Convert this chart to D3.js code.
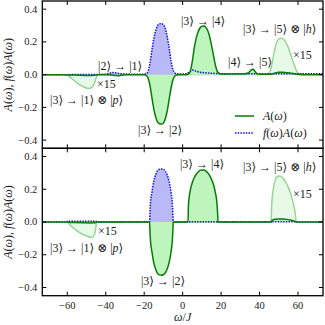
<!DOCTYPE html>
<meta charset="utf-8">
<head>
<script src="https://d3js.org/d3.v7.min.js"></script>
<style>
body { margin: 0; background: #fff; }
text { font-family: "Liberation Serif", "DejaVu Serif", serif; font-size: 12px; fill: #222; }
text.tick { font-size: 10.5px; }
</style>
</head>
<body>
<div id="chart"></div>
<script>

var xTicks = [-60, -40, -20, 0, 20, 40, 60];
var yTicks = [-0.4, -0.2, 0.0, 0.2, 0.4];

// top panel: smooth spectra  [omega, value]
var topA = [[-73,0],[-62,0],[-60,-0.0005],[-57,-0.002],[-54,-0.0035],[-51,-0.005],[-48.5,-0.0056],[-46,-0.004],[-44.5,-0.001],[-43,0],
  [-40,0],[-37,-0.002],[-35,-0.005],[-33.5,-0.007],[-32,-0.004],[-30,-0.001],[-22,0],[-20,-0.001],
  [-19,-0.004],[-18,-0.02],[-17,-0.065],[-16,-0.14],[-15,-0.21],[-14,-0.26],[-13,-0.29],[-12,-0.3],[-11,-0.302],[-10,-0.295],
  [-9,-0.27],[-8,-0.22],[-7,-0.15],[-6,-0.08],[-5,-0.03],[-4,-0.008],[-3,-0.002],[-2,0],[2,0],
  [3,0.003],[4,0.02],[5,0.08],[6,0.16],[7,0.22],[8,0.26],[9,0.285],[10,0.296],[11,0.297],[12,0.29],[13,0.27],[14,0.235],
  [15,0.18],[16,0.12],[17,0.06],[18,0.02],[19,0.007],[20,0.004],[26,0.004],[32,0.005],[34,0.01],[35,0.02],[36,0.032],[36.8,0.033],
  [37.5,0.022],[38.5,0.008],[40,0.002],[44,0.002],[47,0.006],[50,0.014],[52,0.015],[55,0.011],[58,0.005],[61,0.001],[63,0],[73,0]];
var topFA = [[-73,0],[-62,0],[-50,0.001],[-42,0.002],[-40,0.003],[-38,0.009],[-36.5,0.013],[-35,0.011],[-33,0.007],[-30,0.004],
  [-25,0.003],[-21,0.003],
  [-19,0.005],[-18,0.02],[-17,0.07],[-16,0.15],[-15,0.22],[-14,0.27],[-13,0.3],[-12,0.31],[-11,0.312],[-10,0.305],
  [-9,0.28],[-8,0.23],[-7,0.16],[-6,0.08],[-5,0.03],[-4,0.01],[-3,0.005],[0,0.004],
  [2,0.006],[3,0.012],[4,0.022],[5,0.028],[6,0.026],[7,0.021],[9,0.015],[12,0.011],[16,0.008],[20,0.006],[30,0.005],
  [40,0.005],[50,0.006],[60,0.005],[73,0.005]];
var topX15 = [[-61,0],[-59,-0.01],[-57,-0.03],[-55,-0.05],[-53,-0.065],[-51,-0.077],[-49,-0.084],[-47.5,-0.08],[-46,-0.055],[-45,-0.02],[-44,0],
  [44,0],[45,0.01],[46,0.04],[47,0.1],[48,0.16],[49,0.2],[50,0.218],[51,0.222],[52,0.22],[53,0.21],[54,0.19],[55,0.165],
  [56,0.13],[57,0.095],[58,0.06],[59,0.03],[60,0.01],[61,0]];

// bottom panel: sharp-edged spectra
var botA = [[-73,0],[-60,0],[-59.5,-0.001],[-56,-0.003],[-52,-0.005],[-48,-0.0062],[-46,-0.0053],[-45.2,-0.003],[-44.8,0],
  [-17.2,0],[-17,-0.06],[-16.7,-0.12],[-16,-0.18],[-15,-0.25],[-14,-0.29],[-13,-0.315],[-12,-0.323],[-11,-0.325],[-10,-0.322],
  [-9,-0.31],[-8,-0.285],[-7,-0.245],[-6,-0.18],[-5.3,-0.1],[-5.05,-0.04],[-4.9,0],
  [2.8,0],[3,0.1],[3.5,0.16],[4,0.195],[5,0.24],[6,0.27],[7,0.29],[8,0.305],[9,0.315],[10,0.318],[11,0.318],[12,0.312],
  [13,0.3],[14,0.285],[15,0.26],[16,0.23],[17,0.18],[17.8,0.12],[18.2,0.05],[18.4,0],
  [46,0],[46.3,0.007],[47,0.013],[48,0.017],[50,0.019],[52,0.018],[54,0.016],[56,0.012],[58,0.006],[59,0],[73,0]];
var botFA = [[-73,0],[-60.1,0],[-60,0.004],[-52,0.005],[-45,0.005],[-44.9,0],
  [-17.2,0],[-17,0.06],[-16.7,0.12],[-16,0.18],[-15,0.25],[-14,0.29],[-13,0.315],[-12,0.322],[-11,0.324],[-10,0.322],
  [-9,0.31],[-8,0.285],[-7,0.245],[-6,0.18],[-5.3,0.1],[-5.05,0.04],[-4.9,0],
  [2.8,0],[2.9,0.002],[18.3,0.002],[18.4,0],[46,0],[46.1,0.002],[58.9,0.002],[59,0],[73,0]];
var botX15 = [[-60,0],[-59,-0.012],[-58,-0.025],[-56,-0.045],[-54,-0.062],[-52,-0.075],[-50,-0.085],[-48,-0.093],[-47,-0.094],
  [-46,-0.08],[-45.2,-0.04],[-44.8,0],
  [46,0],[46.3,0.1],[47,0.19],[48,0.25],[49,0.275],[50,0.281],[51,0.278],[52,0.27],[53,0.255],[54,0.235],[55,0.21],
  [56,0.18],[57,0.14],[58,0.09],[58.7,0.04],[59,0]];

// annotations [omega, value, label]
var topNotes = [[-44,0.028,"|2⟩ → |1⟩"],[-44.6,-0.082,"×15"],[-69,-0.179,"|3⟩ → |1⟩ ⊗ |p⟩"],[-23.2,-0.363,"|3⟩ → |2⟩"],
  [-0.9,0.303,"|3⟩ → |4⟩"],[23.6,0.053,"|4⟩ → |5⟩"],[31.4,0.255,"|3⟩ → |5⟩ ⊗ |h⟩"],[57.4,0.096,"×15"]];
var botNotes = [[-44,-0.079,"×15"],[-69,-0.183,"|3⟩ → |1⟩ ⊗ |p⟩"],[-21.7,-0.385,"|3⟩ → |2⟩"],
  [-1.4,0.33,"|3⟩ → |4⟩"],[31.4,0.312,"|3⟩ → |5⟩ ⊗ |h⟩"],[57.4,0.147,"×15"]];

var width = 325, height = 325;
var left = 42.3, right = 323;

var svg = d3.select("#chart").append("svg")
  .attr("width", width)
  .attr("height", height);

var x = d3.scaleLinear().domain([-73, 73]).range([left, right]);

function mathText(sel, str) {
  var parts = str.match(/[A-Za-zω]+|[^A-Za-zω]+/g);
  parts.forEach(function(p) {
    sel.append("tspan")
      .style("font-style", /[A-Za-zω]/.test(p) ? "italic" : "normal")
      .text(p);
  });
}

var panels = [
  {top: 1, bottom: 148.3, A: topA, FA: topFA, X15: topX15, notes: topNotes, legend: true},
  {top: 148.3, bottom: 295.7, A: botA, FA: botFA, X15: botX15, notes: botNotes, legend: false}
];

panels.forEach(function(p) {
  var y = d3.scaleLinear().domain([-0.45, 0.45]).range([p.bottom, p.top]);
  var g = svg.append("g");

  var area = d3.area()
    .x(function(d) { return x(d[0]); })
    .y0(y(0))
    .y1(function(d) { return y(d[1]); })
    .curve(d3.curveMonotoneX);
  var line = d3.line()
    .x(function(d) { return x(d[0]); })
    .y(function(d) { return y(d[1]); })
    .curve(d3.curveMonotoneX);

  // x15 magnified features
  g.append("path").datum(p.X15).attr("d", area).attr("fill", "#e7fae7");
  g.append("path").datum(p.X15).attr("d", line).attr("fill", "none")
    .attr("stroke", "#93d393").attr("stroke-width", 1.4);

  g.append("path").datum(p.FA).attr("d", area).attr("fill", "#b9b9f7");
  g.append("path").datum(p.A).attr("d", area).attr("fill", "#bdf5bd");

  g.append("path").datum(p.FA).attr("d", line).attr("fill", "none")
    .attr("stroke", "#1010e0").attr("stroke-width", 1.5).attr("stroke-dasharray", "1.5,1.2");
  g.append("path").datum(p.A).attr("d", line).attr("fill", "none")
    .attr("stroke", "#0a7a0a").attr("stroke-width", 1.5);

  // annotations
  p.notes.forEach(function(n) {
    var t = g.append("text").attr("x", x(n[0])).attr("y", y(n[1]));
    mathText(t, n[2]);
  });

  // ticks inside on all sides
  var tl = 4;
  xTicks.forEach(function(v) {
    g.append("line").attr("x1", x(v)).attr("x2", x(v)).attr("y1", p.bottom).attr("y2", p.bottom - tl).attr("stroke", "#000");
    g.append("line").attr("x1", x(v)).attr("x2", x(v)).attr("y1", p.top).attr("y2", p.top + tl).attr("stroke", "#000");
  });
  yTicks.forEach(function(v) {
    g.append("line").attr("x1", left).attr("x2", left + tl).attr("y1", y(v)).attr("y2", y(v)).attr("stroke", "#000");
    g.append("line").attr("x1", right).attr("x2", right - tl).attr("y1", y(v)).attr("y2", y(v)).attr("stroke", "#000");
    g.append("text").attr("class", "tick").attr("x", left - 5).attr("y", y(v)).attr("dy", "0.33em")
      .attr("text-anchor", "end").text(d3.format(".1f")(v).replace("-", "−"));
  });

  g.append("rect").attr("x", left).attr("y", p.top)
    .attr("width", right - left).attr("height", p.bottom - p.top)
    .attr("fill", "none").attr("stroke", "#000").attr("stroke-width", 1.3);

  var yl = g.append("text")
    .attr("transform", "translate(12," + ((p.top + p.bottom) / 2) + ") rotate(-90)")
    .attr("text-anchor", "middle");
  mathText(yl, "A(ω), f(ω)A(ω)");

  if (p.legend) {
    var lg = g.append("g").attr("transform", "translate(235,116)");
    lg.append("line").attr("x1", 0).attr("x2", 19).attr("stroke", "#0a7a0a").attr("stroke-width", 1.5);
    lg.append("line").attr("x1", 0).attr("x2", 19).attr("y1", 17).attr("y2", 17)
      .attr("stroke", "#1010e0").attr("stroke-width", 1.5).attr("stroke-dasharray", "1.5,1.2");
    mathText(lg.append("text").attr("x", 28).attr("y", 4), "A(ω)");
    mathText(lg.append("text").attr("x", 28).attr("y", 21), "f(ω)A(ω)");
  }
});

xTicks.forEach(function(v) {
  svg.append("text").attr("class", "tick").attr("x", x(v)).attr("y", 309).attr("text-anchor", "middle")
    .text(String(v).replace("-", "−"));
});
mathText(svg.append("text").attr("x", x(0)).attr("y", 321).attr("text-anchor", "middle"), "ω/J");

</script>
</body>
